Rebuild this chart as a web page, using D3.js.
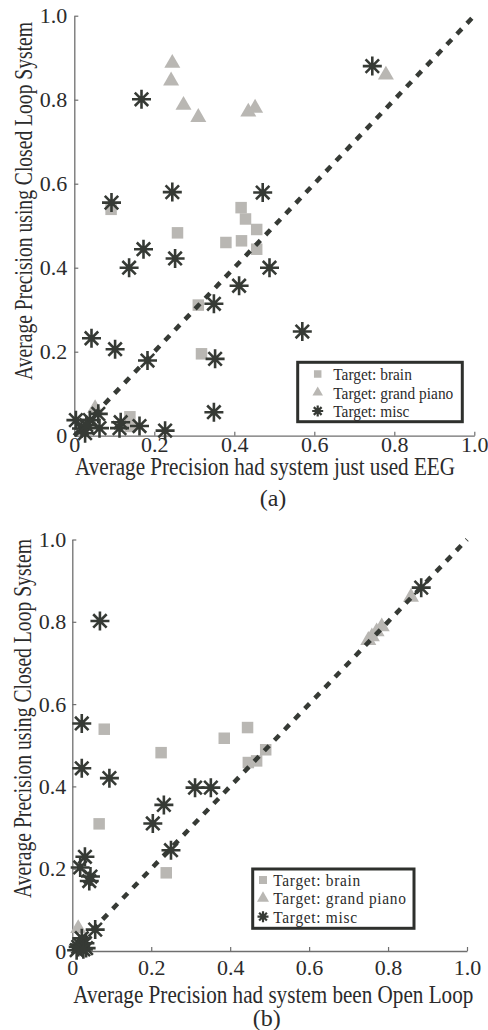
<!DOCTYPE html>
<html><head><meta charset="utf-8">
<script src="https://cdn.jsdelivr.net/npm/d3@7"></script>
<style>
html,body{margin:0;padding:0;background:#fff;}
svg{display:block;}
svg text{font-family:"Liberation Serif","DejaVu Serif","Times New Roman",serif;}
</style></head><body>
<svg id="fig" width="488" height="1030"></svg>
<script>
// Shared tick values and texts
const tickValues = [0, 0.2, 0.4, 0.6, 0.8, 1.0];
const tickLabels = ["0", "0.2", "0.4", "0.6", "0.8", "1.0"];
const legendLabels = ["Target: brain", "Target: grand piano", "Target: misc"];
const yTitle = "Average Precision using Closed Loop System";
const xTitleA = "Average Precision had system just used EEG";
const xTitleB = "Average Precision had system been Open Loop";
const captions = ["(a)", "(b)"];

// (a) closed loop precision vs. EEG-only precision, [x, y]
const brainA = [[0.092,0.539],[0.258,0.483],[0.417,0.543],[0.428,0.516],[0.456,0.491],[0.379,0.460],
  [0.418,0.464],[0.456,0.444],[0.310,0.311],[0.318,0.195],[0.139,0.045],[0.140,0.022]];
const pianoA = [[0.245,0.887],[0.242,0.845],[0.273,0.787],[0.310,0.758],[0.435,0.771],[0.452,0.780],
  [0.779,0.859],[0.052,0.065]];
const miscA = [[0.168,0.801],[0.745,0.880],[0.093,0.555],[0.245,0.580],[0.471,0.579],[0.173,0.444],
  [0.137,0.400],[0.252,0.422],[0.488,0.400],[0.412,0.357],[0.349,0.314],[0.043,0.232],[0.102,0.206],
  [0.570,0.248],[0.183,0.179],[0.352,0.183],[0.349,0.056],[0.227,0.012],[0.163,0.023],[0.113,0.018],
  [0.116,0.032],[0.004,0.037],[0.018,0.017],[0.027,0.006],[0.039,0.037],[0.060,0.052],[0.063,0.018],
  [0.030,0.025]];

// (b) closed loop precision vs. open loop precision, [x, y]
const brainB = [[0.081,0.539],[0.225,0.482],[0.385,0.517],[0.444,0.543],[0.490,0.489],[0.446,0.458],
  [0.467,0.462],[0.068,0.309],[0.238,0.190]];
const pianoB = [[0.858,0.860],[0.784,0.788],[0.771,0.776],[0.759,0.764],[0.750,0.755],[0.015,0.055]];
const miscB = [[0.070,0.802],[0.884,0.883],[0.024,0.553],[0.024,0.444],[0.094,0.420],[0.311,0.397],
  [0.351,0.397],[0.232,0.355],[0.204,0.310],[0.250,0.245],[0.032,0.229],[0.020,0.203],[0.046,0.181],
  [0.043,0.170],[0.058,0.052],[0.020,0.015],[0.011,0.002],[0.032,0.019],[0.024,0.031],[0.035,0.007],
  [0.015,0.010],[0.028,0.004]];

const GRAY = "#b9b7b3", DARK = "#363a35", AXIS = "#6f6f6f", TEXT = "#2b2b2b";
const SERIF = '"Liberation Serif","DejaVu Serif","Times New Roman",serif';

// eight-armed asterisk marker (plus and cross combined)
const asterisk = {
  draw(ctx, size) {
    const r = Math.sqrt(size) / 2, d = r * Math.SQRT1_2;
    ctx.moveTo(-r, 0); ctx.lineTo(r, 0);
    ctx.moveTo(0, -r); ctx.lineTo(0, r);
    ctx.moveTo(-d, -d); ctx.lineTo(d, d);
    ctx.moveTo(-d, d); ctx.lineTo(d, -d);
  }
};

const svg = d3.select("#fig");

function panel(o) {
  const x = d3.scaleLinear().domain([0, 1]).range(o.xr);
  const y = d3.scaleLinear().domain([0, 1]).range(o.yr);
  const g = svg.append("g");

  const styleAxis = sel => {
    sel.attr("font-family", null).attr("font-size", null);
    sel.select(".domain").attr("stroke", AXIS).attr("stroke-width", 1.3);
    sel.selectAll(".tick line").attr("stroke", AXIS).attr("stroke-width", 1.2);
    sel.selectAll(".tick text").attr("fill", TEXT)
      .style("font-family", SERIF).style("font-size", "22px");
  };

  g.append("g")
    .attr("transform", `translate(0,${o.yr[0]})`)
    .call(d3.axisBottom(x).tickValues(tickValues).tickFormat((d, i) => tickLabels[i])
      .tickSizeInner(-4).tickSizeOuter(0).tickPadding(o.xpad))
    .call(styleAxis);

  g.append("g")
    .attr("transform", `translate(${o.xr[0]},0)`)
    .call(d3.axisLeft(y).tickValues(tickValues).tickFormat((d, i) => tickLabels[i])
      .tickSizeInner(-4).tickSizeOuter(0).tickPadding(o.ypad))
    .call(styleAxis);

  const sq = d3.symbol().type(d3.symbolSquare).size(11.5 * 11.5);
  const tri = d3.symbol().type(d3.symbolTriangle).size(Math.sqrt(3) / 4 * 16 * 16);
  const ast = d3.symbol().type(asterisk).size(19 * 19);

  g.append("g").selectAll("path").data(o.brain).join("path")
    .attr("d", sq).attr("fill", GRAY)
    .attr("transform", d => `translate(${x(d[0])},${y(d[1])})`);

  g.append("g").selectAll("path").data(o.piano).join("path")
    .attr("d", tri).attr("fill", GRAY)
    .attr("transform", d => `translate(${x(d[0])},${y(d[1])})`);

  // y = x reference line
  g.append("line")
    .attr("x1", x(0)).attr("y1", y(0)).attr("x2", x(1)).attr("y2", y(1))
    .attr("stroke", DARK).attr("stroke-width", 4.5).attr("stroke-dasharray", "7,7.6");

  g.append("g").selectAll("path").data(o.misc).join("path")
    .attr("d", ast).attr("fill", "none").attr("stroke", DARK).attr("stroke-width", 2.6)
    .attr("transform", d => `translate(${x(d[0])},${y(d[1])})`);

  // legend
  const L = o.leg;
  const lg = g.append("g");
  lg.append("rect").attr("x", L.x).attr("y", L.y).attr("width", L.w).attr("height", L.h)
    .attr("fill", "#fff").attr("stroke", "#2e302d").attr("stroke-width", 3);
  const lsq = d3.symbol().type(d3.symbolSquare).size(L.sq * L.sq);
  const ltri = d3.symbol().type(d3.symbolTriangle).size(Math.sqrt(3) / 4 * L.tri * L.tri);
  const last = d3.symbol().type(asterisk).size(L.ast * L.ast);
  const marks = [
    {d: lsq, fill: GRAY, stroke: "none"},
    {d: ltri, fill: GRAY, stroke: "none"},
    {d: last, fill: "none", stroke: DARK}
  ];
  legendLabels.forEach((t, i) => {
    const cy = L.rows[i];
    lg.append("path").attr("d", marks[i].d()).attr("fill", marks[i].fill)
      .attr("stroke", marks[i].stroke).attr("stroke-width", 2.2)
      .attr("transform", `translate(${L.mx},${cy})`);
    lg.append("text").attr("transform", `translate(${L.tx},${cy + 6}) scale(${L.sx},1)`)
      .attr("fill", TEXT).style("font-family", SERIF).style("font-size", L.fs + "px")
      .style("letter-spacing", L.ls + "px")
      .text(t);
  });

  // titles
  g.append("text").attr("x", o.xt.x).attr("y", o.xt.y)
    .attr("textLength", o.xt.len).attr("lengthAdjust", "spacingAndGlyphs")
    .attr("fill", TEXT).style("font-family", SERIF).style("font-size", "25px").text(o.xTitle);
  g.append("text").attr("transform", `translate(${o.yt.x},${o.yt.y}) rotate(-90)`)
    .attr("textLength", o.yt.len).attr("lengthAdjust", "spacingAndGlyphs")
    .attr("fill", TEXT).style("font-family", SERIF).style("font-size", "26px").text(yTitle);
  g.append("text").attr("x", o.cap.x).attr("y", o.cap.y).attr("text-anchor", "middle")
    .attr("fill", TEXT).style("font-family", SERIF).style("font-size", "24px").text(o.caption);
}

panel({
  xr: [74.3, 474.3], yr: [435.7, 15.7], xpad: 1, ypad: 7,
  brain: brainA, piano: pianoA, misc: miscA,
  leg: {x: 297.7, y: 362.3, w: 164.6, h: 59.4, mx: 317.7, tx: 333.3, rows: [374, 392.5, 411],
        sq: 7.5, tri: 10.5, ast: 11, fs: 17.5, sx: 0.88, ls: 0},
  xTitle: xTitleA, xt: {x: 75, y: 475, len: 380},
  yt: {x: 32, y: 380, len: 358},
  caption: captions[0], cap: {x: 273, y: 506}
});

panel({
  xr: [72.3, 467], yr: [951, 539.5], xpad: 8, ypad: 6,
  brain: brainB, piano: pianoB, misc: miscB,
  leg: {x: 252.7, y: 869, w: 161.3, h: 59.3, mx: 263, tx: 273.3, rows: [880, 898.3, 916.7],
        sq: 8, tri: 12, ast: 11, fs: 17.5, sx: 0.88, ls: 0.8},
  xTitle: xTitleB, xt: {x: 73.3, y: 1003, len: 400},
  yt: {x: 31, y: 898, len: 359},
  caption: captions[1], cap: {x: 266.7, y: 1026}
});
</script>
</body></html>
